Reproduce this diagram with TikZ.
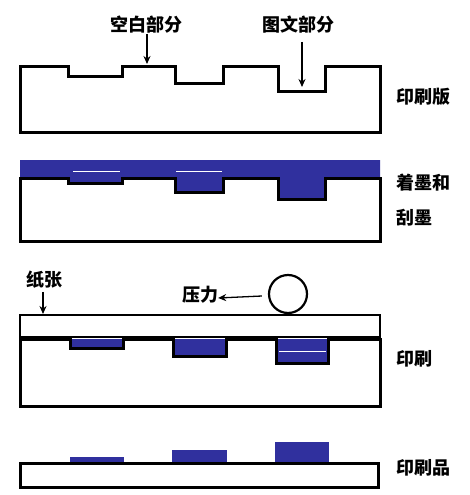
\documentclass[tikz,border=0pt]{standalone}
\usepackage{fontspec}
\newfontfamily\cjk{Noto Sans CJK SC}
\usetikzlibrary{arrows.meta}

\definecolor{inkblue}{RGB}{48,48,158}

\tikzset{
    plate/.style={line width=3pt, line join=miter},
    paper/.style={line width=2pt},
    ink/.style={fill=inkblue, draw=none},
    label/.style={font=\cjk\bfseries\fontsize{18}{21}\selectfont, inner sep=0pt},
    pointer/.style={line width=1.3pt, -{Stealth[length=8pt,width=7pt]}}
}

\begin{document}
\begin{tikzpicture}[x=1pt, y=-1pt]
    \useasboundingbox (0,0) rectangle (470,495);

    % printing plate
    \draw[plate] (20,67) -- (68,67) -- (68,76) -- (122,76) -- (122,67) --
                 (175,67) -- (175,83) -- (223,83) -- (223,67) --
                 (278,67) -- (278,91) -- (325,91) -- (325,67) --
                 (380,67) -- (380,132) -- (20,132) -- cycle;
    \node[label] (kongbai) at (146,25) {空白部分};
    \node[label] (tuwen) at (298,25) {图文部分};
    \coordinate (kongbai tip) at (147,64);
    \coordinate (tuwen tip) at (302,87);
    \draw[pointer] ([xshift=1pt]kongbai.south) -- (kongbai tip);
    \draw[pointer] ([xshift=4pt,yshift=-8pt]tuwen.south) -- (tuwen tip);
    \node[label, anchor=west] (banmian) at (396,97) {印刷版};

    % inking and wiping
    \fill[inkblue] (20,160) -- (380,160) -- (380,178) -- (325,178) --
                   (325,199) -- (278,199) -- (278,178) -- (223,178) --
                   (223,192) -- (175,192) -- (175,178) -- (122,178) --
                   (122,183) -- (68,183) -- (68,178) -- (20,178) -- cycle;
    \draw[white, line width=0.8pt] (73,171) -- (120,171);
    \draw[white, line width=0.8pt] (176,171) -- (222,171);
    \draw[plate] (20,178) -- (68,178) -- (68,183) -- (122,183) -- (122,178) --
                 (175,178) -- (175,192) -- (223,192) -- (223,178) --
                 (278,178) -- (278,199) -- (325,199) -- (325,178) --
                 (380,178) -- (380,241) -- (20,241) -- cycle;
    \node[label, anchor=west] (zhuomo) at (396,183) {着墨和};
    \node[label, anchor=west] (guamo) at (396,218) {刮墨};

    % printing
    \draw[paper] (20,315) rectangle (380,337);
    \fill[ink] (70,339) rectangle (123,348);
    \fill[ink] (173,339) rectangle (226,356);
    \fill[ink] (276,339) rectangle (328,363);
    \draw[white, line width=0.8pt] (279,351) -- (326,351);
    \draw[plate] (20,339) -- (70,339) -- (70,348) -- (123,348) -- (123,339) --
                 (173,339) -- (173,356) -- (226,356) -- (226,339) --
                 (276,339) -- (276,363) -- (328,363) -- (328,339) --
                 (380,339) -- (380,406) -- (20,406) -- cycle;
    \node[circle, draw, line width=2.2pt, minimum size=38pt, inner sep=0pt]
        (roller) at (288,294) {};
    \node[label] (yali) at (200,295) {压力};
    \draw[pointer] ([xshift=-6pt,yshift=-2pt]roller.west) -- ([yshift=-3pt]yali.east);
    \node[label] (zhizhang) at (45,280) {纸张};
    \coordinate (zhizhang tip) at (43,314);
    \draw[pointer] ([xshift=-2pt,yshift=-3pt]zhizhang.south) -- (zhizhang tip);
    \node[label, anchor=west] (yinshua) at (396,359) {印刷};

    % printed matter
    \fill[ink] (70,457) rectangle (124,463);
    \fill[ink] (172,450) rectangle (227,463);
    \fill[ink] (275,442) rectangle (329,463);
    \draw[plate] (20,463) rectangle (378,487);
    \node[label, anchor=west] (yinshuapin) at (396,468) {印刷品};
\end{tikzpicture}
\end{document}
